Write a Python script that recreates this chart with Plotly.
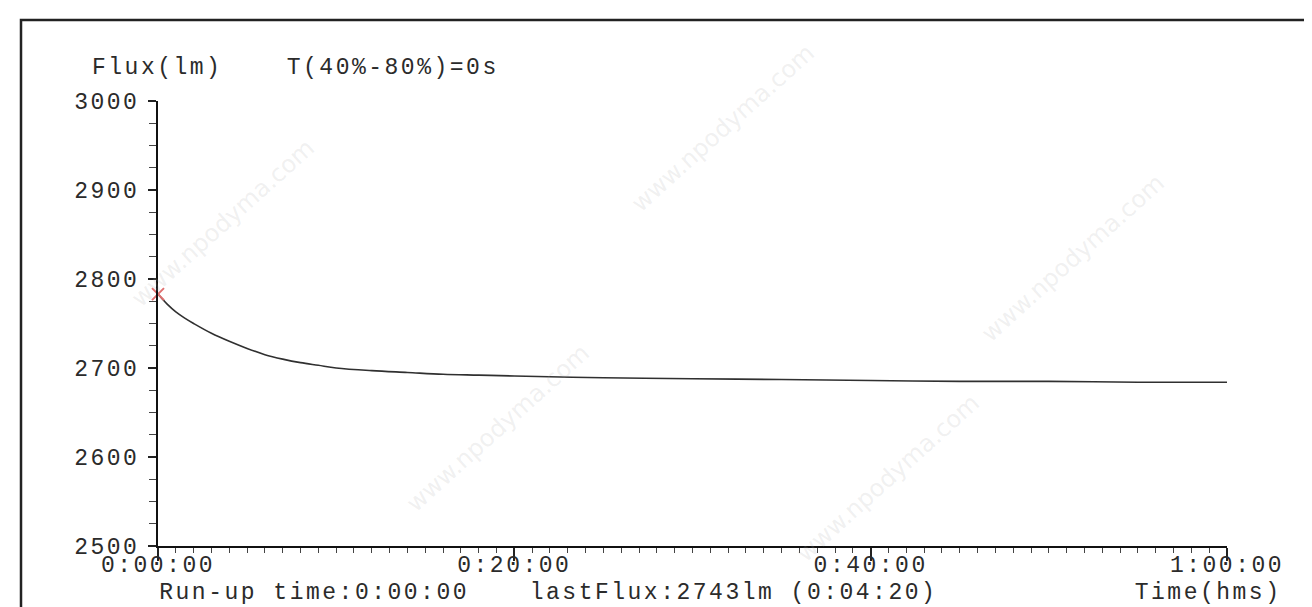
import plotly.graph_objects as go

# ---- data ----
time_min = [0, 0.5, 1, 1.5, 2, 3, 4, 5, 6, 7, 8, 9, 10, 12, 14, 16, 18, 20,
            25, 30, 35, 40, 45, 50, 55, 60]
flux_lm = [2783, 2772, 2763, 2756, 2750, 2739, 2730, 2722, 2715, 2710, 2706,
           2703, 2700, 2697, 2695, 2693, 2692, 2691, 2689, 2688, 2687, 2686,
           2685, 2685, 2684, 2684]
x_tick_vals = [0, 20, 40, 60]
x_tick_text = ["0:00:00", "0:20:00", "0:40:00", "1:00:00"]
y_tick_vals = [2500, 2600, 2700, 2800, 2900, 3000]
start_idx = 0

W, H = 1312, 607
L, R, T, B = 150, 93, 93, 69
PW, PH = W - L - R, H - T - B
FONT = "Liberation Mono, Courier New, monospace"
TXT = "#2b2b2b"


def px(x):
    return (x - L) / PW


def py(y):
    return (H - B - y) / PH


fig = go.Figure()
fig.add_trace(go.Scatter(x=time_min, y=flux_lm, mode="lines",
                         line=dict(color="#303030", width=1.6, shape="spline"),
                         hoverinfo="skip", showlegend=False))
fig.add_trace(go.Scatter(x=[time_min[start_idx]], y=[flux_lm[start_idx]], mode="markers",
                         marker=dict(symbol="x-thin", size=12,
                                     line=dict(color="#e07070", width=2)),
                         showlegend=False, cliponaxis=False))

fig.update_xaxes(range=[0, 60], showline=True, linecolor="#111", linewidth=2,
                 showgrid=False, zeroline=False,
                 tickmode="array", tickvals=x_tick_vals, ticktext=x_tick_text,
                 ticks="outside", ticklen=13, tickwidth=1.5, tickcolor="#222",
                 ticklabelstandoff=-17,
                 tickfont=dict(family=FONT, size=23, color=TXT),
                 minor=dict(dtick=1, ticks="outside", ticklen=5, tickwidth=1.2,
                            tickcolor="#444", showgrid=False))
fig.update_yaxes(range=[2500, 3000], showline=True, linecolor="#111", linewidth=2,
                 showgrid=False, zeroline=False,
                 tickmode="array", tickvals=y_tick_vals,
                 ticks="outside", ticklen=8, tickwidth=1.5, tickcolor="#222",
                 ticklabelstandoff=4,
                 tickfont=dict(family=FONT, size=23, color=TXT),
                 minor=dict(dtick=25, tick0=2500, ticks="outside", ticklen=7,
                            tickwidth=1.2, tickcolor="#444", showgrid=False))

# outer frame
fig.add_shape(type="rect", xref="paper", yref="paper",
              x0=px(13), x1=px(1330), y0=py(640), y1=py(12),
              line=dict(color="#222", width=2.5), layer="above")

ann_font = dict(family=FONT, size=23, color=TXT)
texts = [
    ("Flux(lm)", 149, 60),
    ("T(40%-80%)=0s", 384, 60),
    ("Run-up time:0:00:00", 306, 585),
    ("lastFlux:2743lm (0:04:20)", 725, 585),
    ("Time(hms)", 1200, 585),
]
for t, cx, cy in texts:
    fig.add_annotation(text=t, x=px(cx), y=py(cy), xref="paper", yref="paper",
                       xanchor="center", yanchor="middle", showarrow=False,
                       font=ann_font)

# faint watermarks
wm = [(215, 215), (715, 120), (1065, 250), (490, 420), (880, 470)]
for cx, cy in wm:
    fig.add_annotation(text="www.npodyma.com", x=px(cx), y=py(cy), xref="paper",
                       yref="paper", xanchor="center", yanchor="middle",
                       showarrow=False, textangle=-42,
                       font=dict(family="DejaVu Sans", size=24,
                                 color="rgba(170,170,170,0.18)"))

fig.update_layout(width=W, height=H, autosize=False,
                  margin=dict(l=L, r=R, t=T, b=B, pad=0),
                  paper_bgcolor="white", plot_bgcolor="white",
                  showlegend=False)

post = ("document.querySelectorAll('.main-svg text').forEach(function(t){"
        "if(!t.textContent.startsWith('www.')){t.style.letterSpacing='2.5px';}});")
fig.write_html("out.html", post_script=post)
